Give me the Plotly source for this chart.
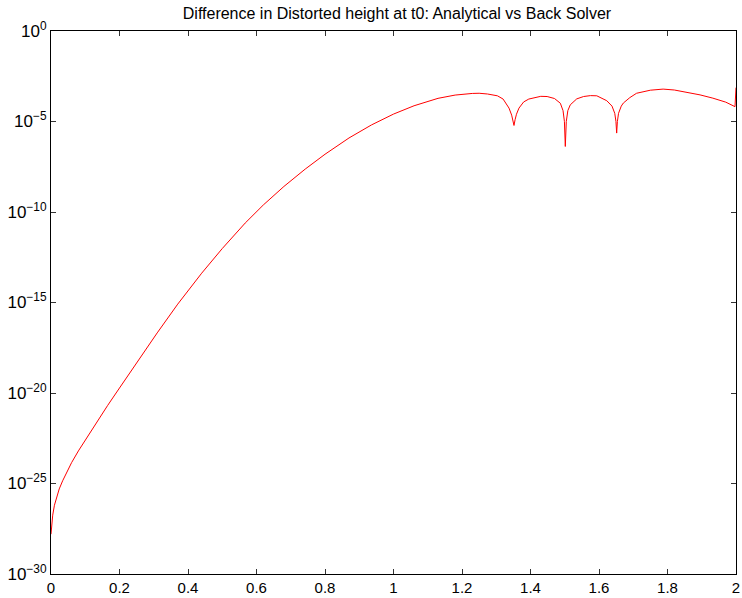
import plotly.graph_objects as go

# x positions
x_vals = [0.000, 0.002, 0.005, 0.010, 0.016, 0.024, 0.034, 0.047, 0.060, 0.080,
          0.100, 0.120, 0.140, 0.165, 0.190, 0.250, 0.310, 0.370, 0.440, 0.500,
          0.567, 0.620, 0.680, 0.7422, 0.800, 0.870, 0.9356, 1.000, 1.060, 1.130,
          1.180, 1.230, 1.250, 1.2743, 1.3034, 1.3200, 1.3373, 1.3450, 1.3490, 1.3518,
          1.3550, 1.3590, 1.3663, 1.3800, 1.3950, 1.4099, 1.4300, 1.4485, 1.4700, 1.4871,
          1.4950, 1.4990, 1.5016, 1.5045, 1.5090, 1.5161, 1.5350, 1.5550, 1.5750, 1.5936,
          1.6100, 1.6226, 1.6380, 1.6460, 1.6495, 1.6516, 1.6537, 1.6570, 1.6650, 1.6711,
          1.6900, 1.7097, 1.7500, 1.7872, 1.8200, 1.8549, 1.8950, 1.9324, 1.9700, 1.9971,
          2.0000]

# log10 of the difference
log10_diff = [-27.80, -27.30, -26.75, -26.20, -25.75, -25.30, -24.85, -24.30, -23.85, -23.20,
              -22.60, -22.00, -21.40, -20.70, -20.00, -18.32, -16.68, -15.09, -13.38, -12.02,
              -10.61, -9.61, -8.59, -7.63, -6.81, -5.91, -5.19, -4.59, -4.13, -3.72,
              -3.54, -3.45, -3.44, -3.48, -3.58, -3.76, -4.26, -4.65, -4.95, -5.22,
              -4.90, -4.60, -4.26, -3.92, -3.76, -3.68, -3.61, -3.62, -3.73, -3.99,
              -4.40, -5.00, -6.38, -5.00, -4.40, -4.08, -3.75, -3.62, -3.57, -3.58,
              -3.72, -3.85, -4.15, -4.55, -5.00, -5.64, -5.00, -4.55, -4.15, -3.98,
              -3.68, -3.44, -3.27, -3.21, -3.26, -3.38, -3.53, -3.71, -3.93, -4.18,
              -3.13]

y_vals = [10 ** e for e in log10_diff]

x_ticks = [0, 0.2, 0.4, 0.6, 0.8, 1, 1.2, 1.4, 1.6, 1.8, 2]
x_tick_text = ["0", "0.2", "0.4", "0.6", "0.8", "1", "1.2", "1.4", "1.6", "1.8", "2"]
y_ticks = [1e-30, 1e-25, 1e-20, 1e-15, 1e-10, 1e-5, 1e0]
y_tick_text = ["10<sup>\u221230</sup>", "10<sup>\u221225</sup>", "10<sup>\u221220</sup>",
               "10<sup>\u221215</sup>", "10<sup>\u221210</sup>", "10<sup>\u22125</sup>",
               "10<sup>0</sup>"]

title_text = "Difference in Distorted height at t0: Analytical vs Back Solver"

fig = go.Figure()
fig.add_trace(go.Scatter(x=x_vals, y=y_vals, mode="lines",
                         line=dict(color="#ff0000", width=1), showlegend=False))

fam = "Liberation Sans, Arial, Helvetica, sans-serif"

fig.update_layout(
    width=742, height=598,
    margin=dict(l=51, r=2, t=31, b=23),
    paper_bgcolor="white", plot_bgcolor="white",
    font=dict(family=fam, size=15, color="#000000"),
    title=dict(text=title_text, x=0.535, xanchor="center", y=1 - 13 / 598, yanchor="middle",
               yref="container", font=dict(family=fam, size=16, color="#000000")),
    xaxis=dict(range=[0, 2], tickvals=x_ticks, ticktext=x_tick_text,
               showline=True, linecolor="black", linewidth=1, mirror="ticks",
               ticks="inside", ticklen=5, tickcolor="#333", showgrid=False, zeroline=False,
               ticklabeloverflow="allow",
               tickfont=dict(family=fam, size=15, color="#000000")),
    yaxis=dict(type="log", range=[-30, 0], tickvals=y_ticks, ticktext=y_tick_text,
               showline=True, linecolor="black", linewidth=1, mirror="ticks",
               ticks="inside", ticklen=5, tickcolor="#333", showgrid=False, zeroline=False,
               ticklabeloverflow="allow",
               tickfont=dict(family=fam, size=17, color="#000000")),
)

fig.write_html("out.html")
